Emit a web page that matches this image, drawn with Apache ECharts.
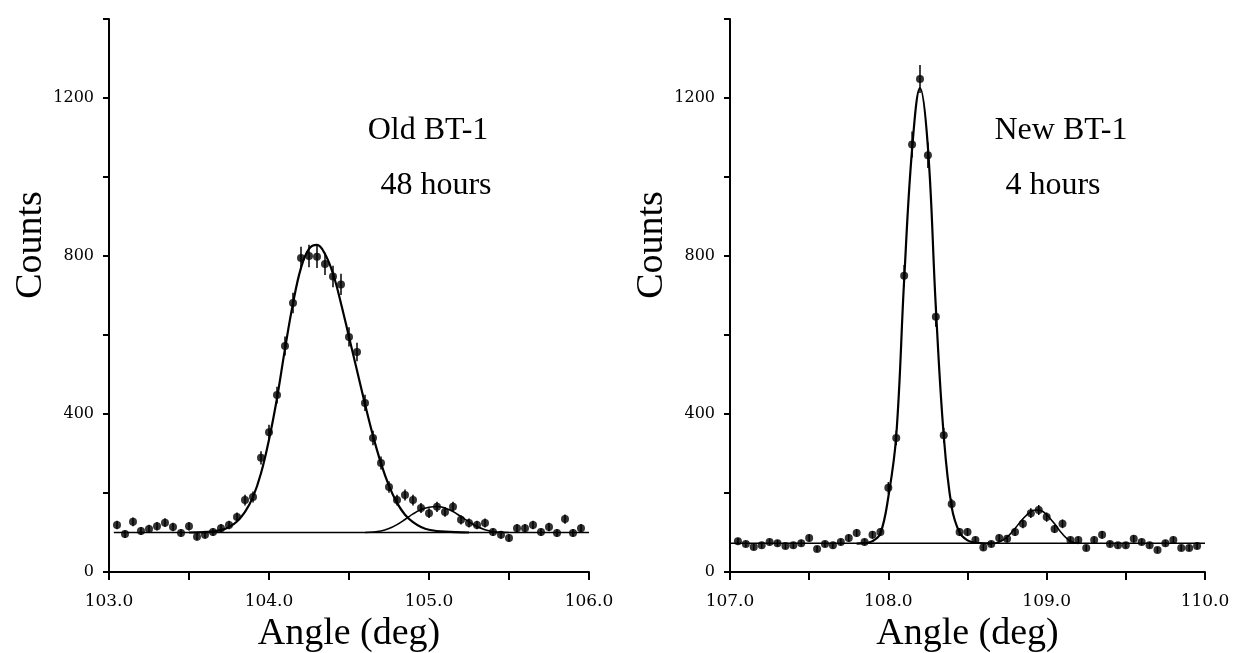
<!DOCTYPE html>
<html>
<head>
<meta charset="utf-8">
<script src="https://cdn.jsdelivr.net/npm/echarts@6/dist/echarts.min.js"></script>
<style>
html,body{margin:0;padding:0;background:#fff;}
#chart{width:1234px;height:653px;}
</style>
</head>
<body>
<div id="chart"></div>
<script>
// ---- Left panel: Old BT-1, 48 hours ----
const leftAngle = [103.05,103.10,103.15,103.20,103.25,103.30,103.35,103.40,103.45,103.50,103.55,103.60,103.65,103.70,103.75,103.80,103.85,103.90,103.95,104.00,104.05,104.10,104.15,104.20,104.25,104.30,104.35,104.40,104.45,104.50,104.55,104.60,104.65,104.70,104.75,104.80,104.85,104.90,104.95,105.00,105.05,105.10,105.15,105.20,105.25,105.30,105.35,105.40,105.45,105.50,105.55,105.60,105.65,105.70,105.75,105.80,105.85,105.90,105.95];
const leftCounts = [119,96,127,104,109,116,125,114,99,116,89,94,101,111,119,139,182,190,289,354,448,572,681,795,800,798,780,748,728,595,557,428,339,276,215,182,195,182,162,149,165,152,165,132,124,119,124,101,94,86,111,111,119,101,114,99,134,99,111];
// fit curve (main peak + background)
const leftFitAngle = [103.50,103.60,103.70,103.75,103.80,103.85,103.90,103.95,104.00,104.05,104.10,104.15,104.20,104.25,104.30,104.35,104.40,104.45,104.50,104.55,104.60,104.65,104.70,104.75,104.80,104.85,104.90,104.95,105.00,105.10,105.25];
const leftFitCounts = [100,101,106,114,128,152,190,250,335,440,565,680,770,818,828,805,755,680,595,510,425,345,275,218,175,145,126,114,107,102,100];
// second (weak) peak component
const leftPeak2Angle = [104.60,104.70,104.75,104.80,104.85,104.90,104.95,105.00,105.05,105.10,105.15,105.20,105.25,105.30,105.35,105.40,105.50];
const leftPeak2Counts = [100,104,110,120,133,147,158,164,166,162,153,140,127,115,107,102,100];
const leftBaseAngle = [103.03,106.0];
const leftBaseCounts = [100,100];

// ---- Right panel: New BT-1, 4 hours ----
const rightAngle = [107.05,107.10,107.15,107.20,107.25,107.30,107.35,107.40,107.45,107.50,107.55,107.60,107.65,107.70,107.75,107.80,107.85,107.90,107.95,108.00,108.05,108.10,108.15,108.20,108.25,108.30,108.35,108.40,108.45,108.50,108.55,108.60,108.65,108.70,108.75,108.80,108.85,108.90,108.95,109.00,109.05,109.10,109.15,109.20,109.25,109.30,109.35,109.40,109.45,109.50,109.55,109.60,109.65,109.70,109.75,109.80,109.85,109.90,109.95];
const rightCounts = [78,71,63,68,76,73,66,68,73,86,58,71,68,76,86,99,76,94,101,213,339,750,1082,1248,1055,646,346,172,101,101,81,62,71,86,84,101,122,149,157,139,109,122,81,81,61,81,94,71,68,68,84,76,68,56,73,81,61,61,66];
const rightFitAngle = [107.80,107.85,107.90,107.95,108.00,108.05,108.10,108.15,108.20,108.25,108.30,108.35,108.40,108.45,108.50,108.55,108.65];
const rightFitCounts = [72,73,78,98,190,345,740,1070,1225,1075,670,345,165,100,80,74,72];
const rightPeak2Angle = [108.65,108.70,108.75,108.80,108.85,108.90,108.93,108.96,109.00,109.05,109.10,109.15,109.20];
const rightPeak2Counts = [72,76,88,110,135,153,157,156,145,122,96,78,72];
const rightBaseAngle = [107.0,110.0];
const rightBaseCounts = [73,73];

const yTicks = [0,400,800,1200];

const zip = (a,b) => a.map((v,i)=>[v,b[i]]);
const SERIF = "'Liberation Serif','DejaVu Serif',serif";
const TICKFONT = "'DejaVu Serif',serif";

function xAxisCfg(idx, min, max){
  return {
    gridIndex: idx, type:'value', min:min, max:max, interval:0.5,
    name:'Angle (deg)', nameLocation:'middle', nameGap:42,
    nameTextStyle:{fontFamily:SERIF, fontSize:38, color:'#000'},
    axisLine:{show:true, onZero:false, lineStyle:{color:'#000', width:2}},
    axisTick:{show:true, inside:false, length:8, lineStyle:{color:'#000', width:2}},
    axisLabel:{color:'#000', fontFamily:TICKFONT, fontSize:17, margin:21,
      formatter: v => (Math.abs(v - Math.round(v)) < 1e-6 ? v.toFixed(1) : '')},
    splitLine:{show:false}
  };
}
function yAxisCfg(idx){
  return {
    gridIndex: idx, type:'value', min:0, max:1400, interval:200,
    axisLine:{show:true, onZero:false, lineStyle:{color:'#000', width:2}},
    axisTick:{show:true, inside:false, length:6, lineStyle:{color:'#000', width:2}},
    axisLabel:{color:'#000', fontFamily:TICKFONT, fontSize:16, margin:15,
      formatter: v => (yTicks.indexOf(v) >= 0 ? String(v) : '')},
    splitLine:{show:false}
  };
}
function errBars(idx, data){
  return {
    type:'custom', xAxisIndex:idx, yAxisIndex:idx, data:data, z:4,
    renderItem:(params, api) => {
      const x = api.value(0), y = api.value(1), e = Math.sqrt(y);
      const p1 = api.coord([x, y+e]), p2 = api.coord([x, y-e]);
      return {type:'line', shape:{x1:p1[0], y1:p1[1], x2:p2[0], y2:p2[1]},
              style:{stroke:'#000', lineWidth:1.5}};
    }
  };
}
function lineS(idx, data, w, smooth){
  return {type:'line', xAxisIndex:idx, yAxisIndex:idx, data:data, showSymbol:false,
    smooth:smooth, lineStyle:{color:'#000', width:w}, z:3, silent:true};
}
function scat(idx, data){
  return {type:'scatter', xAxisIndex:idx, yAxisIndex:idx, data:data, symbol:'circle',
    symbolSize:8, itemStyle:{color:'#000'}, z:5, silent:true};
}

const chart = echarts.init(document.getElementById('chart'), null, {renderer:'canvas'});
chart.setOption({
  backgroundColor:'#fff',
  animation:false,
  grid:[
    {left:109, top:19, width:480, height:553, containLabel:false, outerBoundsMode:'none'},
    {left:730, top:19, width:475, height:553, containLabel:false, outerBoundsMode:'none'}
  ],
  xAxis:[xAxisCfg(0,103,106), xAxisCfg(1,107,110)],
  yAxis:[yAxisCfg(0), yAxisCfg(1)],
  series:[
    lineS(0, zip(leftBaseAngle,leftBaseCounts), 1.5, false),
    lineS(0, zip(leftFitAngle,leftFitCounts), 2.2, 0.4),
    lineS(0, zip(leftPeak2Angle,leftPeak2Counts), 1.6, 0.4),
    errBars(0, zip(leftAngle,leftCounts)),
    scat(0, zip(leftAngle,leftCounts)),
    lineS(1, zip(rightBaseAngle,rightBaseCounts), 1.5, false),
    lineS(1, zip(rightFitAngle,rightFitCounts), 2.2, 0.4),
    lineS(1, zip(rightPeak2Angle,rightPeak2Counts), 1.6, 0.4),
    errBars(1, zip(rightAngle,rightCounts)),
    scat(1, zip(rightAngle,rightCounts))
  ],
  graphic:[
    {type:'text', x:31, y:245, rotation:Math.PI/2,
     style:{text:'Counts', font:'38px '+SERIF, fill:'#000', textAlign:'center', textVerticalAlign:'middle'}},
    {type:'text', x:652, y:245, rotation:Math.PI/2,
     style:{text:'Counts', font:'38px '+SERIF, fill:'#000', textAlign:'center', textVerticalAlign:'middle'}},
    {type:'text', x:428, y:131,
     style:{text:'Old BT-1', font:'32px '+SERIF, fill:'#000', textAlign:'center', textVerticalAlign:'middle'}},
    {type:'text', x:436, y:186,
     style:{text:'48 hours', font:'32px '+SERIF, fill:'#000', textAlign:'center', textVerticalAlign:'middle'}},
    {type:'text', x:1061, y:131,
     style:{text:'New BT-1', font:'32px '+SERIF, fill:'#000', textAlign:'center', textVerticalAlign:'middle'}},
    {type:'text', x:1053, y:186,
     style:{text:'4 hours', font:'32px '+SERIF, fill:'#000', textAlign:'center', textVerticalAlign:'middle'}}
  ]
});
</script>
</body>
</html>
